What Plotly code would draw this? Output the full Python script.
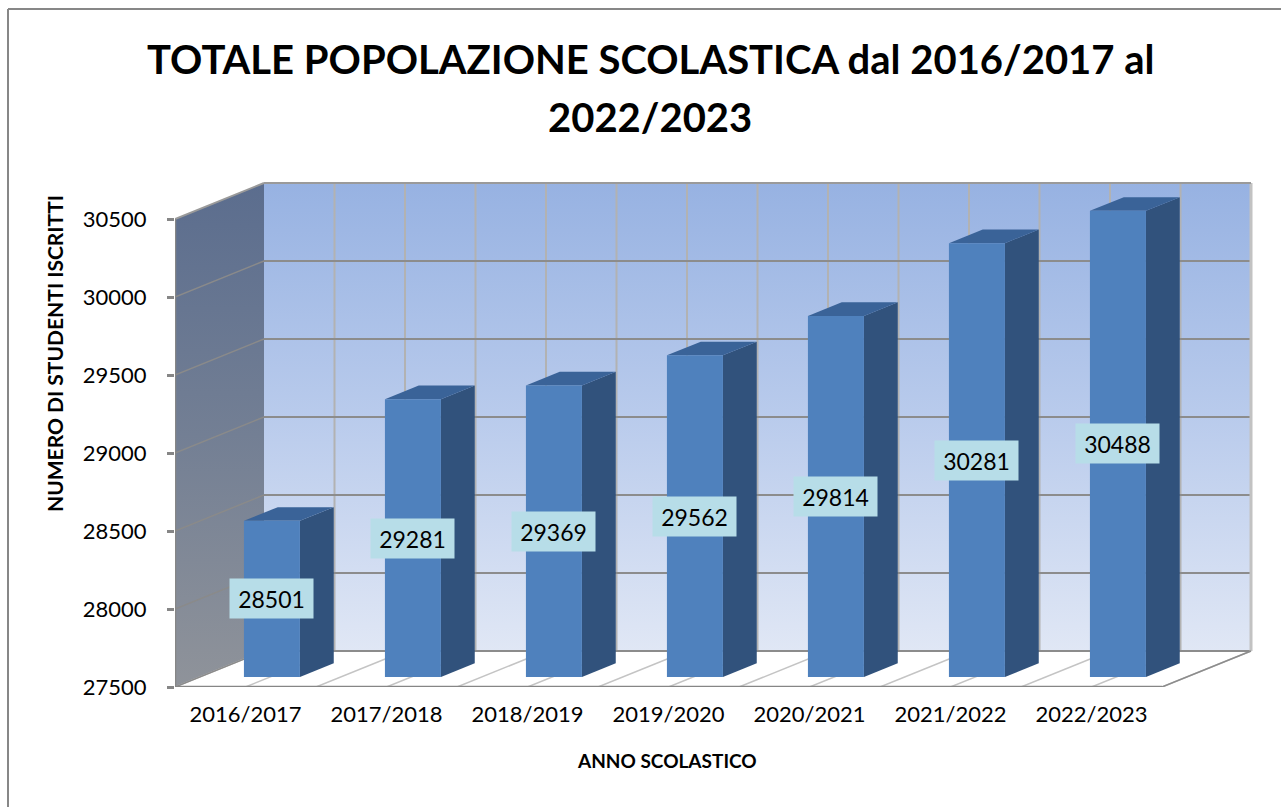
import plotly.graph_objects as go

# ---------------- data ----------------
CATEGORIES = ["2016/2017", "2017/2018", "2018/2019", "2019/2020", "2020/2021", "2021/2022", "2022/2023"]
VALUES = [28501, 29281, 29369, 29562, 29814, 30281, 30488]
Y_TICKS = [27500, 28000, 28500, 29000, 29500, 30000, 30500]
TITLE_LINES = ["TOTALE POPOLAZIONE SCOLASTICA dal 2016/2017 al", "2022/2023"]
Y_TITLE = "NUMERO DI STUDENTI ISCRITTI"
X_TITLE = "ANNO SCOLASTICO"

# ---------------- geometry (pixels) ----------------
W, H = 1281, 807
ML, MR, MT, MB = 175, 10, 170, 120
PW, PH = W - ML - MR, H - MT - MB
CAT_PX = 141.0
PX_PER_STEP = 78.0           # pixels per 500 units
STEP = 500.0
DEPTH_DX, DEPTH_DY = 89.0, 36.0

Y0 = Y_TICKS[0]
YTOP = Y_TICKS[-1]
N = len(CATEGORIES)
UNIT_PER_PX = STEP / PX_PER_STEP
XR = [0, PW / CAT_PX]
YR = [Y0, Y0 + PH * UNIT_PER_PX]
DXD = DEPTH_DX / CAT_PX
DYD = DEPTH_DY * UNIT_PER_PX

BAR_W = 56.0 / CAT_PX
BAR_SHIFT = 0.012
D0, D1 = 0.278, 0.278 + 0.38


def proj(x, y, d):
    return x + d * DXD, y + d * DYD


def px_x(px):
    return (px - ML) / PW


def px_y(py):
    return (H - MB - py) / PH


fig = go.Figure()


def poly(points, color=None, gradient=None, line_color=None, line_width=0):
    xs = [p[0] for p in points] + [points[0][0]]
    ys = [p[1] for p in points] + [points[0][1]]
    kw = dict(x=xs, y=ys, mode="lines", fill="toself", hoverinfo="skip", showlegend=False,
              line=dict(width=line_width, color=line_color or "rgba(0,0,0,0)"))
    if gradient is not None:
        kw["fillgradient"] = dict(type="vertical", colorscale=gradient)
    else:
        kw["fillcolor"] = color
    fig.add_trace(go.Scatter(**kw))


def segs(pairs, color, width):
    xs, ys = [], []
    for a, b in pairs:
        xs += [a[0], b[0], None]
        ys += [a[1], b[1], None]
    fig.add_trace(go.Scatter(x=xs, y=ys, mode="lines", hoverinfo="skip", showlegend=False,
                             line=dict(color=color, width=width)))


# walls
poly([proj(0, Y0, 1), proj(N, Y0, 1), proj(N, YTOP, 1), proj(0, YTOP, 1)],
     gradient=[[0, "#e0e7f5"], [0.5, "#b9cbec"], [1, "#97b2e2"]])
poly([proj(0, Y0, 0), proj(0, Y0, 1), proj(0, YTOP, 1), proj(0, YTOP, 0)],
     gradient=[[0, "#8f939a"], [0.5, "#737f94"], [1, "#5b6d8e"]])
poly([proj(0, Y0, 0), proj(N, Y0, 0), proj(N, Y0, 1), proj(0, Y0, 1)], color="#ffffff")

# grid lines
halves = [k * 0.5 for k in range(2 * N + 1)]
segs([(proj(x, Y0, 0), proj(x, Y0, 1)) for x in halves], "#c4c4c4", 1.5)
segs([(proj(x, Y0, 1), proj(x, YTOP, 1)) for x in halves[1:-1]], "#b2b2b2", 2)
segs([(proj(0, v, 1), proj(N, v, 1)) for v in Y_TICKS], "#8c8c8c", 2)
segs([(proj(0, v, 0), proj(0, v, 1)) for v in Y_TICKS[:-1]], "#8a8a8a", 1.5)
segs([(proj(N, Y0, 1), proj(N, YTOP, 1))], "#c2c2c2", 3)
segs([(proj(0, YTOP, 0), proj(0, YTOP, 1)), (proj(0, YTOP, 1), proj(N, YTOP, 1))], "#9a9a9a", 2)
segs([(proj(N, Y0, 0), proj(N, Y0, 1))], "#8c8c8c", 1.5)

# bars (3D)
for i, v in enumerate(VALUES):
    cx = i + 0.5 + BAR_SHIFT
    xl, xr = cx - BAR_W / 2, cx + BAR_W / 2
    poly([proj(xr, Y0, D0), proj(xr, Y0, D1), proj(xr, v, D1), proj(xr, v, D0)], color="#31527c")
    poly([proj(xl, v, D0), proj(xr, v, D0), proj(xr, v, D1), proj(xl, v, D1)], color="#3a6398")
    poly([proj(xl, Y0, D0), proj(xr, Y0, D0), proj(xr, v, D0), proj(xl, v, D0)], color="#4f81bd")

# front axes
segs([(proj(0, Y0, 0), proj(0, YTOP, 0))], "#868686", 2.5)
segs([(proj(0, Y0, 0), proj(N, Y0, 0))], "#868686", 2.5)
tick_len_y = 7 * UNIT_PER_PX
segs([((i, Y0), (i, Y0 - tick_len_y)) for i in range(N + 1)], "#868686", 2.5)

annotations = []
# data labels
for i, v in enumerate(VALUES):
    cx = i + 0.5 + BAR_SHIFT
    ax, ay = proj(cx, (Y0 + v) / 2, D0)
    annotations.append(dict(x=ax, y=ay, xref="x", yref="y", text=str(v), showarrow=False,
                            font=dict(family="Lato", size=23, color="#000000"),
                            bgcolor="#b7dde8", width=81, height=37, align="center"))

# titles
annotations.append(dict(x=px_x(650), y=px_y(59), xref="paper", yref="paper", text=TITLE_LINES[0],
                        showarrow=False, font=dict(family="Lato", size=40, color="#000000", weight="bold"),
                        xanchor="center", yanchor="middle"))
annotations.append(dict(x=px_x(650), y=px_y(117), xref="paper", yref="paper", text=TITLE_LINES[1],
                        showarrow=False, font=dict(family="Lato", size=40, color="#000000", weight="bold"),
                        xanchor="center", yanchor="middle"))
annotations.append(dict(x=px_x(54), y=px_y(354), xref="paper", yref="paper", text=Y_TITLE, textangle=-90,
                        showarrow=False, font=dict(family="Lato", size=21, color="#000000", weight="bold"),
                        xanchor="center", yanchor="middle"))
annotations.append(dict(x=px_x(667), y=px_y(760), xref="paper", yref="paper", text=X_TITLE,
                        showarrow=False, font=dict(family="Lato", size=19, color="#000000", weight="bold"),
                        xanchor="center", yanchor="middle"))

shapes = [
    dict(type="line", xref="paper", yref="paper", x0=px_x(8), x1=px_x(8), y0=px_y(9), y1=px_y(H + 5),
         line=dict(color="#878787", width=2)),
    dict(type="line", xref="paper", yref="paper", x0=px_x(8), x1=px_x(W + 5), y0=px_y(9), y1=px_y(9),
         line=dict(color="#878787", width=2)),
]

fig.update_layout(
    width=W, height=H,
    margin=dict(l=ML, r=MR, t=MT, b=MB, pad=0),
    paper_bgcolor="#ffffff", plot_bgcolor="rgba(0,0,0,0)",
    showlegend=False,
    annotations=annotations,
    shapes=shapes,
    xaxis=dict(range=XR, showgrid=False, zeroline=False, showline=False, automargin=False,
               tickmode="array", tickvals=[i + 0.5 for i in range(N)], ticktext=CATEGORIES,
               ticks="", tickfont=dict(family="Lato", size=22, color="#000000"), ticklabelstandoff=12,
               fixedrange=True),
    yaxis=dict(range=YR, showgrid=False, zeroline=False, showline=False, automargin=False,
               tickmode="array", tickvals=Y_TICKS, ticktext=[str(t) for t in Y_TICKS],
               ticks="outside", ticklen=7, tickwidth=2.5, tickcolor="#868686",
               tickfont=dict(family="Lato", size=22, color="#000000"), ticklabelstandoff=16,
               fixedrange=True),
)

fig.write_html("out.html", config={"displayModeBar": False},
               post_script="document.body.style.margin='0px';document.body.style.overflow='hidden';")
